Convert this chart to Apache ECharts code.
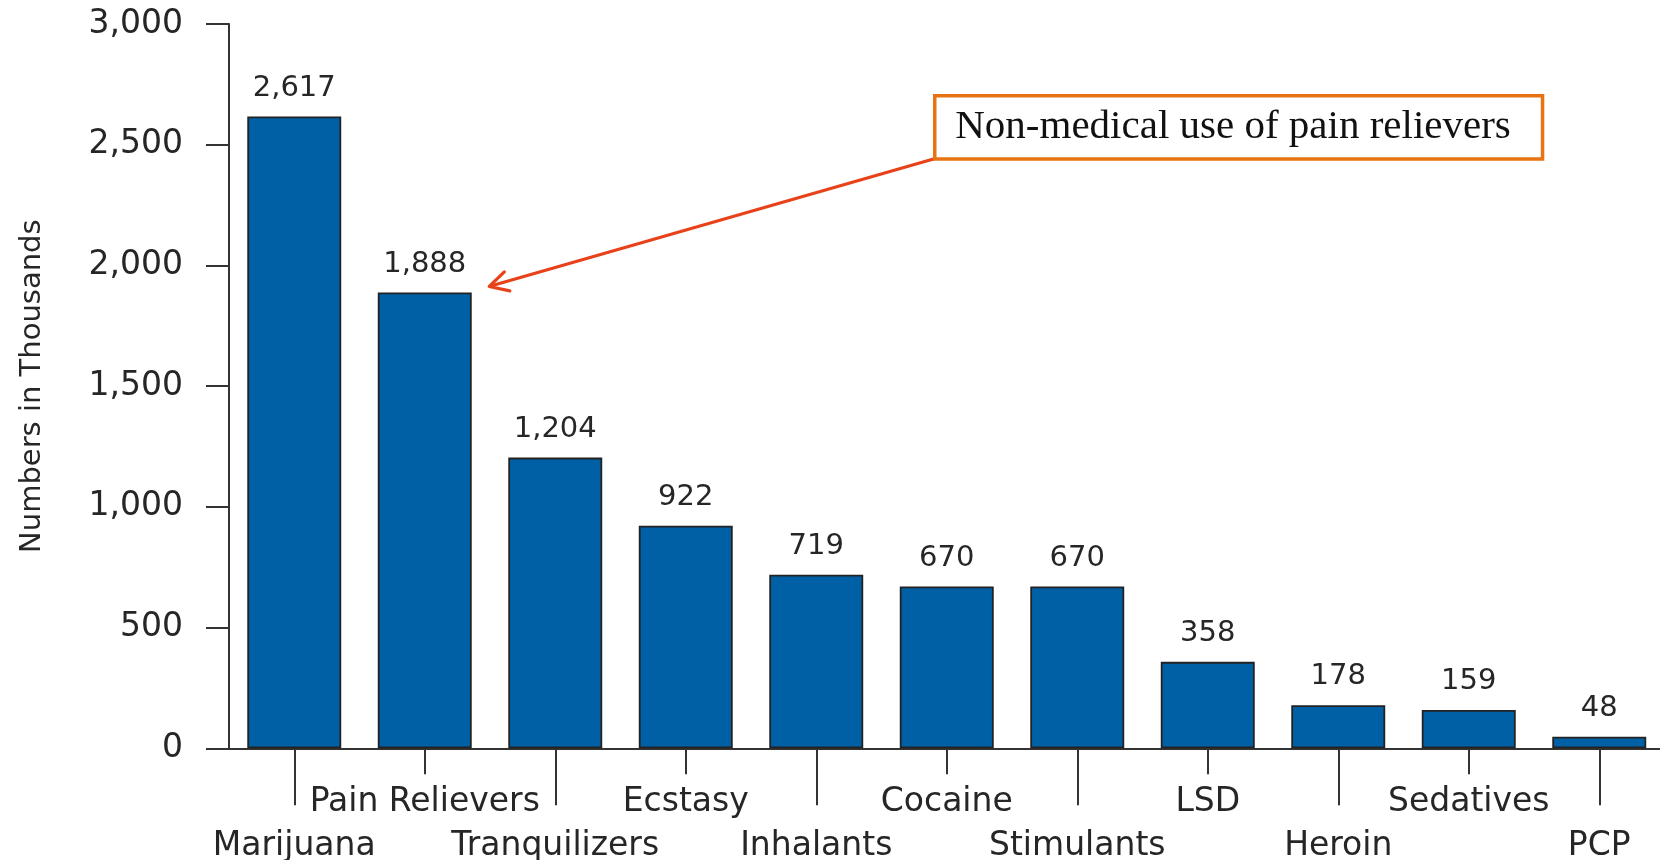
<!DOCTYPE html>
<html>
<head>
<meta charset="utf-8">
<title>Past Year Initiates of Specific Illicit Drugs</title>
<script src="https://cdn.jsdelivr.net/npm/echarts@6/dist/echarts.min.js"></script>
<style>
  html, body { margin: 0; padding: 0; background: #ffffff; }
  #chart { width: 1660px; height: 860px; }
</style>
</head>
<body>
<div id="chart"></div>
<script>
// Drug categories along the horizontal axis
const categories = [
  'Marijuana', 'Pain Relievers', 'Tranquilizers', 'Ecstasy', 'Inhalants',
  'Cocaine', 'Stimulants', 'LSD', 'Heroin', 'Sedatives', 'PCP'
];
// Number of initiates, in thousands
const initiatesThousands = [2617, 1888, 1204, 922, 719, 670, 670, 358, 178, 159, 48];
// Value axis range and step
const yMin = 0;
const yMax = 3000;
const yStep = 500;

const calloutText = 'Non-medical use of pain relievers';
const calloutCategory = 'Pain Relievers';

const sansFont = 'DejaVu Sans';
const inkColor = '#262626';
const fmt = v => Number(v).toLocaleString('en-US');

const chart = echarts.init(document.getElementById('chart'), null, { renderer: 'canvas' });

const evenIdx = i => i % 2 === 0;
const oddIdx = i => i % 2 === 1;

const option = {
  backgroundColor: '#ffffff',
  animation: false,
  grid: {
    left: 229, top: 24, width: 1435.5, height: 724.3,
    containLabel: false,
    outerBoundsMode: 'none'
  },
  xAxis: [
    {
      // lower row of labels with long ticks
      type: 'category',
      data: categories,
      position: 'bottom',
      axisLine: { show: true, lineStyle: { color: '#333333', width: 2 } },
      axisTick: { show: true, alignWithLabel: true, length: 57, interval: evenIdx,
                  lineStyle: { color: '#333333', width: 2 } },
      axisLabel: { interval: evenIdx, margin: 82, fontFamily: sansFont, fontSize: 33,
                   lineHeight: 33, color: inkColor },
      splitLine: { show: false }
    },
    {
      // upper row of labels with short ticks
      type: 'category',
      data: categories,
      position: 'bottom',
      axisLine: { show: false },
      axisTick: { show: true, alignWithLabel: true, length: 26, interval: oddIdx,
                  lineStyle: { color: '#333333', width: 2 } },
      axisLabel: { interval: oddIdx, margin: 38, fontFamily: sansFont, fontSize: 33,
                   lineHeight: 33, color: inkColor },
      splitLine: { show: false }
    }
  ],
  yAxis: {
    type: 'value',
    min: yMin,
    max: yMax,
    interval: yStep,
    name: 'Numbers in Thousands',
    nameLocation: 'middle',
    nameRotate: 90,
    nameGap: 182,
    nameTextStyle: { fontFamily: sansFont, fontSize: 29, color: inkColor },
    axisLine: { show: true, lineStyle: { color: '#333333', width: 2 } },
    axisTick: { show: true, length: 23, lineStyle: { color: '#333333', width: 2 } },
    axisLabel: { margin: 46, fontFamily: sansFont, fontSize: 33, color: inkColor,
                 formatter: fmt },
    splitLine: { show: false }
  },
  series: [
    {
      type: 'bar',
      xAxisIndex: 0,
      yAxisIndex: 0,
      data: initiatesThousands,
      barWidth: '72%',
      itemStyle: { color: '#0060a6', borderColor: '#222222', borderWidth: 1.8 },
      label: {
        show: true,
        position: 'top',
        distance: 14,
        fontFamily: sansFont,
        fontSize: 29,
        lineHeight: 29,
        color: inkColor,
        formatter: p => fmt(p.value)
      }
    }
  ]
};

chart.setOption(option);

// Callout box with an arrow pointing at the pain relievers bar
const boxLeft = 934.75, boxTop = 95.75, boxW = 607.8, boxH = 63.2;
const barIndex = categories.indexOf(calloutCategory);
const barTop = chart.convertToPixel({ xAxisIndex: 0, yAxisIndex: 0 },
  [barIndex, initiatesThousands[barIndex]]);
const tip = [barTop[0] + 64.5, barTop[1] - 6];
const tail = [boxLeft + 0.5, boxTop + boxH - 0.5];
const dx = tail[0] - tip[0], dy = tail[1] - tip[1];
const len = Math.hypot(dx, dy);
const ux = dx / len, uy = dy / len;
const headLen = 21, headAng = 28 * Math.PI / 180;
const rot = (a) => [
  tip[0] + headLen * (ux * Math.cos(a) - uy * Math.sin(a)),
  tip[1] + headLen * (ux * Math.sin(a) + uy * Math.cos(a))
];
const arrowColor = '#e8421a';

chart.setOption({
  graphic: [
    {
      type: 'line',
      shape: { x1: tail[0], y1: tail[1], x2: tip[0] + ux * 1.5, y2: tip[1] + uy * 1.5 },
      style: { stroke: arrowColor, lineWidth: 3.2, lineCap: 'round' },
      z: 10
    },
    {
      type: 'polyline',
      shape: { points: [rot(-headAng), tip, rot(headAng)] },
      style: { stroke: arrowColor, lineWidth: 3.2, lineCap: 'round', lineJoin: 'round', fill: null },
      z: 10
    },
    {
      type: 'rect',
      shape: { x: boxLeft, y: boxTop, width: boxW, height: boxH },
      style: { fill: '#ffffff', stroke: '#e87312', lineWidth: 3.5 },
      z: 11
    },
    {
      type: 'text',
      x: boxLeft + 20.5,
      y: boxTop + boxH / 2,
      style: {
        text: calloutText,
        font: '41px "Liberation Serif", serif',
        fill: '#111111',
        align: 'left',
        verticalAlign: 'middle'
      },
      z: 12
    }
  ]
});
</script>
</body>
</html>
